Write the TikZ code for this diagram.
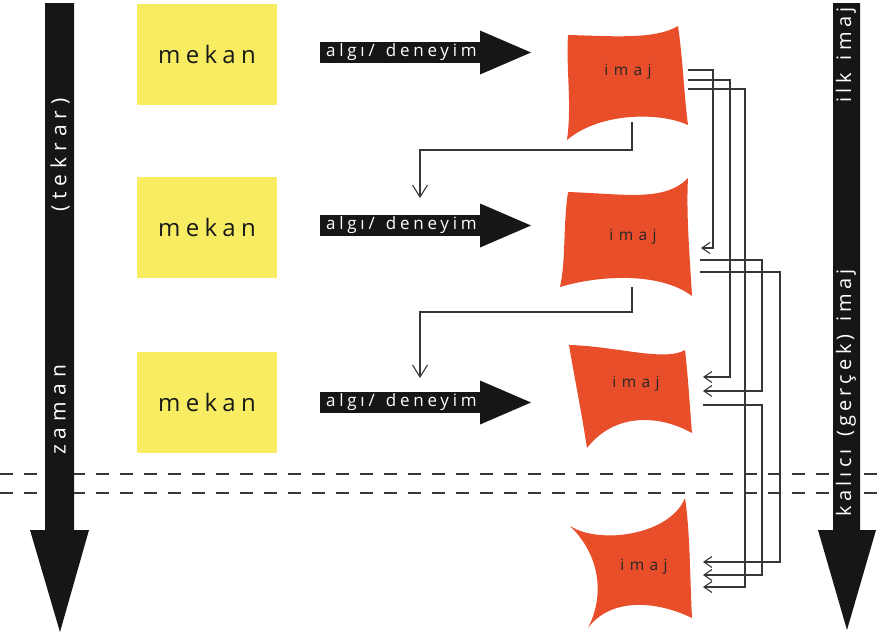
\documentclass[tikz,border=0pt]{standalone}
\usepackage{fontspec}
\setmainfont{Open Sans}
\newfontfamily\spmekan[LetterSpace=22]{Open Sans}
\newfontfamily\spflow[LetterSpace=22]{Open Sans}
\newfontfamily\spim[LetterSpace=35]{Open Sans}
\newfontfamily\spleft[LetterSpace=29]{Open Sans}
\newfontfamily\spright[LetterSpace=21]{Open Sans}
\usetikzlibrary{arrows.meta}
\definecolor{boxyellow}{RGB}{248,237,98}
\definecolor{imred}{RGB}{233,78,43}
\definecolor{arrowblack}{RGB}{22,22,22}
\definecolor{linegray}{RGB}{55,55,55}
\begin{document}
\begin{tikzpicture}[x=1pt,y=-1pt,
  mekanbox/.style={fill=boxyellow, minimum width=140pt, minimum height=101pt, inner sep=0pt,
    font=\spmekan\fontsize{24}{28}\selectfont, text=black!90},
  flowfill/.style={fill=arrowblack},
  flowlabel/.style={anchor=west, inner sep=0pt, text=white, font=\spflow\fontsize{17}{20}\selectfont},
  vleft/.style={rotate=90, inner sep=0pt, text=white, font=\spleft\fontsize{21}{24}\selectfont},
  vright/.style={rotate=90, inner sep=0pt, text=white, font=\spright\fontsize{20}{24}\selectfont},
  imshape/.style={fill=imred},
  imlabel/.style={inner sep=0pt, text=black!85, font=\spim\fontsize{15.5}{18}\selectfont},
  link/.style={draw=linegray, line width=1.2pt},
  tipsmall/.style={-{Straight Barb[length=8pt,width=11pt,line width=1.1pt]}},
  tipbig/.style={-{Straight Barb[length=12pt,width=15pt,line width=1.1pt]}},
  dashline/.style={draw=linegray, line width=1.8pt, dash pattern=on 13pt off 11pt}
]
\useasboundingbox (0,0) rectangle (886,637);
\fill[white] (0,0) rectangle (886,637);

% dashed separators
\draw[dashline] (0,474) -- (886,474);
\draw[dashline] (0,493) -- (886,493);

% left time arrow
\fill[flowfill] (45,3) -- (74,3) -- (74,530) -- (89,530) -- (60,632) -- (30,530) -- (45,530) -- cycle;
\node[vleft] (tekrar) at (60,155) {(tekrar)};
\node[vleft] (zaman) at (60,410) {zaman};

% right image arrow
\fill[flowfill] (833,3) -- (860,3) -- (860,530) -- (876,530) -- (847,630) -- (818,530) -- (833,530) -- cycle;
\node[vright] (ilk) at (846,55) {ilk\hspace{4pt} imaj};
\node[vright] (kalici) at (846,393) {kalıcı\hspace{3pt} (gerçek)\hspace{3pt} imaj};

% mekan boxes
\node[mekanbox] (m1) at (207,54.5) {mekan};
\node[mekanbox] (m2) at (207,227) {mekan};
\node[mekanbox] (m3) at (207,402) {mekan};

% algi/deneyim arrows
\foreach \c/\n in {52.5/a1,225.5/a2,402.5/a3}{
  \fill[flowfill] (320,\c-10.5) rectangle (481,\c+10.5);
  \fill[flowfill] (480,\c-22) -- (531,\c) -- (480,\c+22) -- cycle;
  \node[flowlabel] (\n) at (326,\c) {algı/\hspace{3pt} deneyim};
}

% imaj shapes
\fill[imshape] (568,35) .. controls (610,36) and (655,40) .. (678,26)
  .. controls (683,60) and (684,95) .. (688,125)
  .. controls (660,112) and (600,112) .. (567,140)
  .. controls (572,105) and (566,70) .. cycle;
\node[imlabel] (im1) at (628,72) {imaj};

\fill[imshape] (568,192) .. controls (625,194) and (665,202) .. (688,178)
  .. controls (686,215) and (690,260) .. (692,296)
  .. controls (660,272) and (600,275) .. (560,287)
  .. controls (566,260) and (563,225) .. cycle;
\node[imlabel] (im2) at (633,237) {imaj};

\fill[imshape] (569,345) .. controls (615,346) and (665,362) .. (685,350)
  .. controls (688,375) and (690,410) .. (692,433)
  .. controls (660,415) and (615,412) .. (587,448)
  .. controls (582,415) and (574,375) .. cycle;
\node[imlabel] (im3) at (636,384) {imaj};

\fill[imshape] (570,526) .. controls (600,545) and (670,535) .. (685,498)
  .. controls (690,530) and (690,580) .. (692,618)
  .. controls (655,600) and (610,598) .. (588,628)
  .. controls (605,595) and (600,555) .. cycle;
\node[imlabel] (im4) at (644,567) {imaj};

% connector ports
\coordinate (o11) at (688,70);
\coordinate (o12) at (688,80);
\coordinate (o13) at (688,89);
\coordinate (o21) at (700,260);
\coordinate (o22) at (700,272);
\coordinate (o31) at (703,405);
\coordinate (i21) at (701,248);
\coordinate (i31) at (703,377);
\coordinate (i32) at (703,391);
\coordinate (i41) at (703,562);
\coordinate (i42) at (703,575);
\coordinate (i43) at (703,587);
\coordinate (c1) at (713,0);
\coordinate (c2) at (730,0);
\coordinate (c3) at (745,0);
\coordinate (c4) at (762,0);
\coordinate (c5) at (780,0);
\coordinate (b1) at (632,122);
\coordinate (b2) at (632,287);
\coordinate (t2) at (420,198);
\coordinate (t3) at (420,378);

% right-side connectors
\draw[link,tipsmall] (o11) -- (o11 -| c1) -- (i21 -| c1) -- (i21);
\draw[link,tipsmall] (o12) -- (o12 -| c2) -- (i31 -| c2) -- (i31);
\draw[link,tipsmall] (o13) -- (o13 -| c3) -- (i43 -| c3) -- (i43);
\draw[link,tipsmall] (o21) -- (o21 -| c4) -- (i32 -| c4) -- (i32);
\draw[link,tipsmall] (o22) -- (o22 -| c5) -- (i41 -| c5) -- (i41);
\draw[link,tipsmall] (o31) -- (o31 -| c4) -- (i42 -| c4) -- (i42);

% downward connectors
\draw[link,tipbig] (b1) -- ++(0,28) -| (t2);
\draw[link,tipbig] (b2) -- ++(0,25) -| (t3);
\end{tikzpicture}
\end{document}
